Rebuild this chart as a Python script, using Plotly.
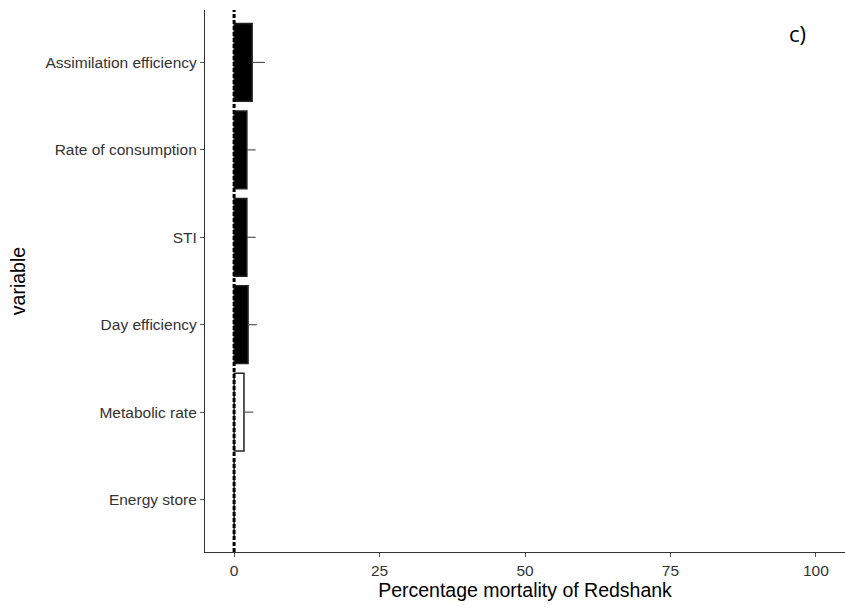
import plotly.graph_objects as go

categories = ["Energy store", "Metabolic rate", "Day efficiency", "STI",
              "Rate of consumption", "Assimilation efficiency"]
box_upper = [0.0, 1.7, 2.4, 2.2, 2.2, 3.1]
whisker_upper = [0.0, 3.3, 3.9, 3.7, 3.7, 5.3]
fill_colors = ["white", "white", "black", "black", "black", "black"]

err_plus = [w - b for w, b in zip(whisker_upper, box_upper)]

fig = go.Figure()
fig.add_trace(go.Bar(
    y=categories, x=box_upper, orientation="h",
    marker=dict(color=fill_colors, line=dict(color="#222222", width=1.5)),
    width=0.89,
    error_x=dict(type="data", symmetric=False, array=err_plus,
                 arrayminus=[0] * len(categories),
                 color="#555555", thickness=1.2, width=0),
    showlegend=False,
))
fig.add_vline(x=0, line=dict(color="black", width=3, dash="4px,2px"))

fam = "Liberation Sans, Arial, sans-serif"
axis_font = dict(family=fam, size=15.5, color="#333333")
fig.update_layout(
    width=845, height=609,
    margin=dict(l=205, r=0, t=10, b=57),
    plot_bgcolor="white", paper_bgcolor="white",
    xaxis=dict(range=[-5, 105], tickvals=[0, 25, 50, 75, 100],
               showgrid=False, zeroline=False, showline=True,
               linecolor="#333333", linewidth=1.2,
               ticks="outside", ticklen=4, tickcolor="#555555",
               tickfont=axis_font,
               title=dict(text="Percentage mortality of Redshank",
                          font=dict(family=fam, size=19.5, color="black"),
                          standoff=5)),
    yaxis=dict(categoryorder="array", categoryarray=categories,
               range=[-0.6, 5.6],
               showgrid=False, zeroline=False, showline=True,
               linecolor="#333333", linewidth=1.2,
               ticks="outside", ticklen=4, tickcolor="#555555",
               tickfont=axis_font,
               title=dict(text="variable",
                          font=dict(family=fam, size=19.5, color="black"),
                          standoff=14)),
    annotations=[dict(text="c)", x=0.925, y=0.9576, xref="paper", yref="paper",
                      showarrow=False, xanchor="center", yanchor="middle",
                      font=dict(family="Open Sans, sans-serif", size=22, color="black"))],
)
fig.write_html("out.html", config={"displayModeBar": False},
               post_script="document.body.style.margin='0';document.body.style.overflow='hidden';")
